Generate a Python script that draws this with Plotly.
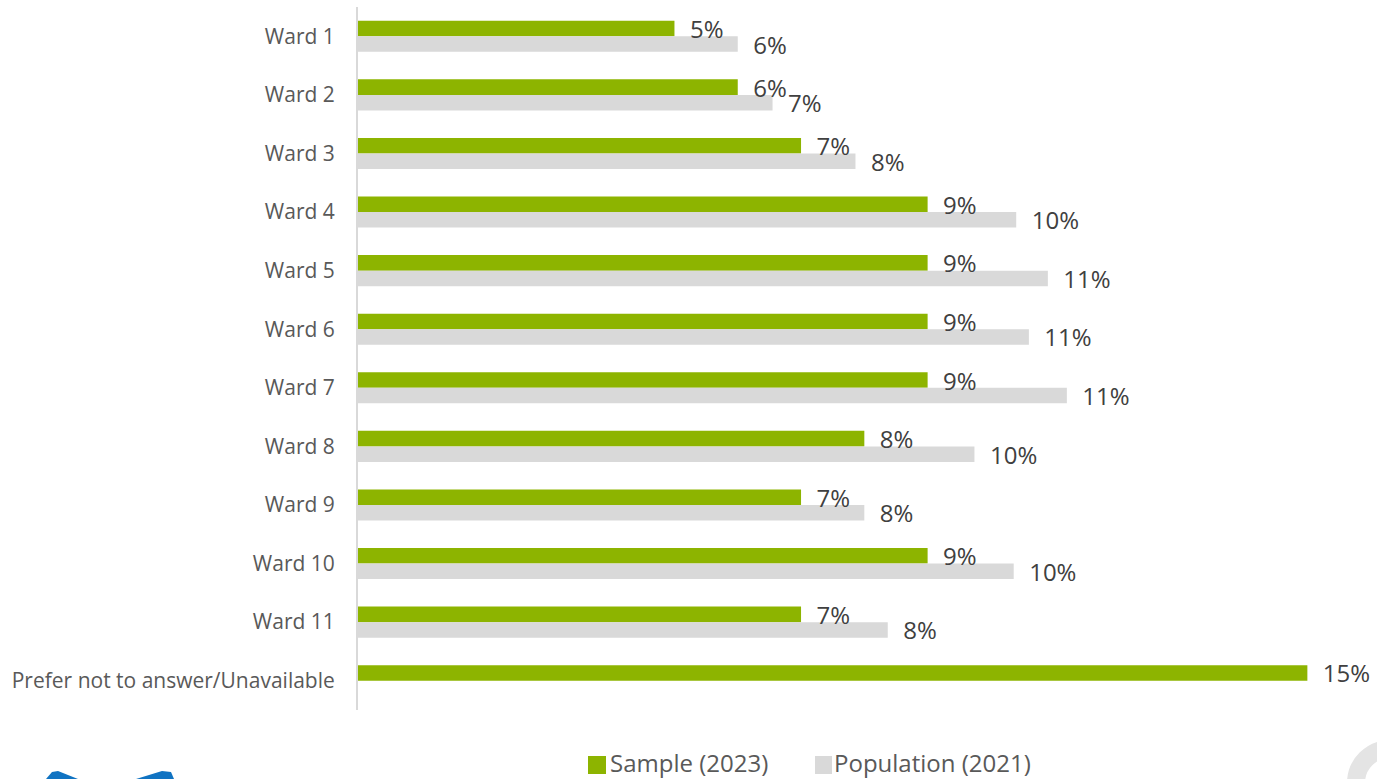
import plotly.graph_objects as go

# Ward breakdown of respondents vs. census population (percent)
categories = ["Ward 1", "Ward 2", "Ward 3", "Ward 4", "Ward 5", "Ward 6",
              "Ward 7", "Ward 8", "Ward 9", "Ward 10", "Ward 11",
              "Prefer not to answer/Unavailable"]
sample_2023 = [5.0, 6.0, 7.0, 9.0, 9.0, 9.0, 9.0, 8.0, 7.0, 9.0, 7.0, 15.0]
population_2021 = [6.0, 6.55, 7.86, 10.4, 10.9, 10.6, 11.2, 9.74, 8.0, 10.36, 8.37, None]

series_names = ["Sample (2023)", "Population (2021)"]
series_colors = ["#8db400", "#d9d9d9"]
series_values = [sample_2023, population_2021]
groups = ["sample", "population"]

FONT = "'Open Sans', sans-serif"
LABEL_COLOR = "#404040"
TICK_COLOR = "#595959"

fig = go.Figure()
# Coloured bars first
for name, vals, color, grp in zip(series_names, series_values, series_colors, groups):
    fig.add_trace(go.Bar(
        name=name,
        y=categories,
        x=vals,
        orientation="h",
        offsetgroup=grp,
        marker=dict(color=color, line=dict(width=0)),
        showlegend=False,
        hoverinfo="x+y+name",
    ))
# Transparent twins in the same slots carry the value labels, so labels sit above all bars
for name, vals, grp in zip(series_names, series_values, groups):
    fig.add_trace(go.Bar(
        name=name,
        y=categories,
        x=vals,
        orientation="h",
        offsetgroup=grp,
        marker=dict(color="rgba(0,0,0,0)", line=dict(width=0)),
        text=[None if v is None else f"{v:.0f}%" for v in vals],
        texttemplate="\u00a0\u00a0%{text}",
        textposition="outside",
        constraintext="none",
        cliponaxis=False,
        textfont=dict(family=FONT, size=24, color=LABEL_COLOR),
        showlegend=False,
        hoverinfo="skip",
    ))

fig.update_layout(
    barmode="group",
    bargap=0.47,
    bargroupgap=0,
    width=1377,
    height=779,
    margin=dict(l=358, r=19, t=7, b=69),
    paper_bgcolor="white",
    plot_bgcolor="white",
    font=dict(family=FONT, color=TICK_COLOR),
    xaxis=dict(range=[0, 15.8], visible=False, fixedrange=True),
    yaxis=dict(
        autorange="reversed",
        showline=True,
        linecolor="#d9d9d9",
        linewidth=2,
        showgrid=False,
        ticks="",
        ticklabelstandoff=17,
        tickfont=dict(family=FONT, size=21, color=TICK_COLOR),
    ),
)

# Legend drawn as swatches + labels centred below the plot
legend_items = [(588, 606, 609), (815, 832, 833)]
for (x0, x1, tx), name, color in zip(legend_items, series_names, series_colors):
    fig.add_shape(type="rect", xref="paper", yref="paper",
                  x0=(x0 - 358) / 1000, x1=(x1 - 358) / 1000,
                  y0=-(756 - 710) / 703, y1=-(774 - 710) / 703,
                  fillcolor=color, line=dict(width=0))
    fig.add_annotation(xref="paper", yref="paper",
                       x=(tx - 358) / 1000, y=-(762 - 710) / 703,
                       xanchor="left", yanchor="middle", showarrow=False,
                       borderpad=0,
                       text=name, font=dict(family=FONT, size=24, color=TICK_COLOR))

# Partial brand marks peeking in at the bottom edge
fig.add_shape(type="circle", xref="paper", yref="paper",
              x0=(1356 - 358) / 1000, x1=(1424 - 358) / 1000,
              y0=-(749 - 710) / 703, y1=-(817 - 710) / 703,
              line=dict(color="#e4e4e4", width=18), fillcolor="rgba(0,0,0,0)")
for pts in [[(46, 779), (52, 772), (58, 771), (78, 779)],
            [(136, 779), (162, 771), (171, 772), (174, 779)]]:
    path = "M " + " L ".join(f"{(x - 358) / 1000},{-(y - 710) / 703}" for x, y in pts) + " Z"
    fig.add_shape(type="path", xref="paper", yref="paper", path=path,
                  fillcolor="#1073c2", line=dict(width=0))

fig.write_html("out.html")
